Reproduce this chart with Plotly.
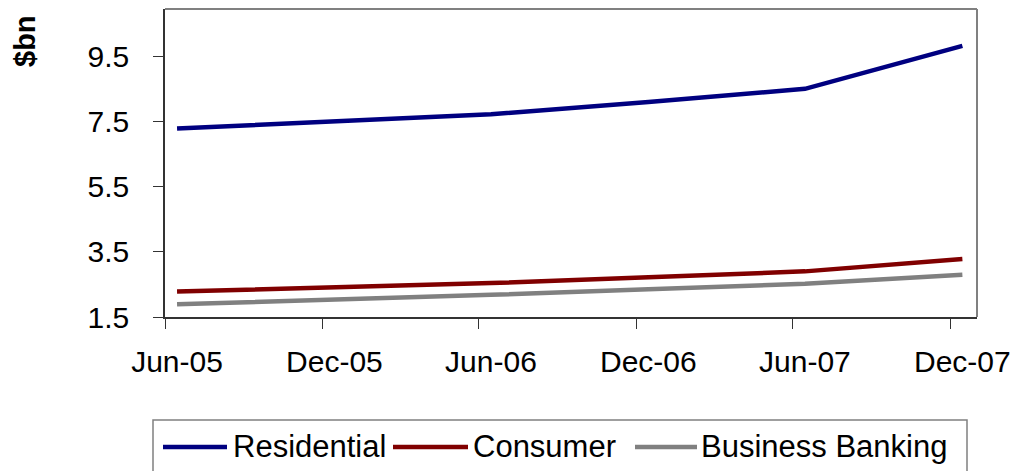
import plotly.graph_objects as go

# Half-yearly balances, $bn
periods = ["2005-06-15", "2005-12-15", "2006-06-15", "2006-12-15", "2007-06-15", "2007-12-15"]
residential = [7.28, 7.5, 7.72, 8.1, 8.5, 9.82]
consumer = [2.28, 2.4, 2.54, 2.72, 2.9, 3.28]
business_banking = [1.89, 2.03, 2.18, 2.35, 2.52, 2.8]

series_names = ["Residential", "Consumer", "Business Banking"]
series_colors = ["#000080", "#800000", "#808080"]

y_ticks = [1.5, 3.5, 5.5, 7.5, 9.5]
x_ticks = ["2005-06-01", "2005-12-01", "2006-06-01", "2006-12-01", "2007-06-01", "2007-12-01"]
x_tick_labels = ["Jun-05", "Dec-05", "Jun-06", "Dec-06", "Jun-07", "Dec-07"]

FONT = "Arial, Liberation Sans, sans-serif"
W, H = 1016, 471
ML, MR, MT, MB = 165, 39, 9, 154
PW, PH = W - ML - MR, H - MT - MB


def px_x(p):
    """Pixel column -> paper x."""
    return (p - ML) / PW


def px_y(p):
    """Pixel row -> paper y."""
    return (H - MB - p) / PH


fig = go.Figure()
for name, vals, color in zip(series_names, [residential, consumer, business_banking], series_colors):
    fig.add_trace(go.Scatter(
        x=periods, y=vals, name=name, mode="lines",
        line=dict(color=color, width=4.5),
    ))

fig.update_layout(
    width=W, height=H,
    margin=dict(l=ML, r=MR, t=MT, b=MB, autoexpand=False),
    paper_bgcolor="white", plot_bgcolor="white",
    font=dict(family=FONT, color="black", size=30),
    showlegend=False,
)

# Month labels sit in the middle of their month, ticks at the month start
fig.update_xaxes(
    type="date", range=["2005-06-01", "2008-01-01"],
    tickvals=x_ticks, ticktext=x_tick_labels,
    ticks="outside", ticklen=10, tickcolor="#333333", tickwidth=1,
    showline=True, linecolor="#333333", linewidth=1.5,
    showgrid=False, zeroline=False, ticklabelstandoff=7, ticklabelshift=12,
    tickfont=dict(size=30, family=FONT),
)
fig.update_yaxes(
    range=[1.5, 10.95], tickvals=y_ticks, ticktext=[f"{v:.1f}" for v in y_ticks],
    ticks="outside", ticklen=10, tickcolor="#333333", tickwidth=1,
    showline=True, linecolor="#333333", linewidth=1.5,
    showgrid=False, zeroline=False, ticklabelstandoff=18,
    tickfont=dict(size=30, family=FONT),
)

# Gray frame on the top and right of the plot area
fig.add_shape(type="line", xref="paper", yref="paper", x0=0, x1=1, y0=1, y1=1,
              line=dict(color="#808080", width=2))
fig.add_shape(type="line", xref="paper", yref="paper", x0=1, x1=1, y0=0, y1=1,
              line=dict(color="#808080", width=2))

# Axis title
fig.add_annotation(
    text="<b>$bn</b>", textangle=-90, xref="paper", yref="paper",
    x=px_x(25), y=px_y(41), xanchor="center", yanchor="middle", showarrow=False,
    font=dict(size=29, family=FONT, color="black"),
)

# Legend box with line samples and labels
fig.add_shape(type="rect", xref="paper", yref="paper",
              x0=px_x(153), x1=px_x(967), y0=px_y(475), y1=px_y(420),
              line=dict(color="#808080", width=1.5), fillcolor="white")
legend_line_x = [(163, 227), (393, 468), (635, 697)]
legend_text_x = [231, 471, 699]
for name, color, (lx0, lx1), tx in zip(series_names, series_colors, legend_line_x, legend_text_x):
    fig.add_shape(type="line", xref="paper", yref="paper",
                  x0=px_x(lx0), x1=px_x(lx1), y0=px_y(447), y1=px_y(447),
                  line=dict(color=color, width=4.5))
    fig.add_annotation(
        text=name, xref="paper", yref="paper", x=px_x(tx), y=px_y(446),
        xanchor="left", yanchor="middle", showarrow=False,
        font=dict(size=31, family=FONT, color="black"),
    )

fig.write_html("out.html")
